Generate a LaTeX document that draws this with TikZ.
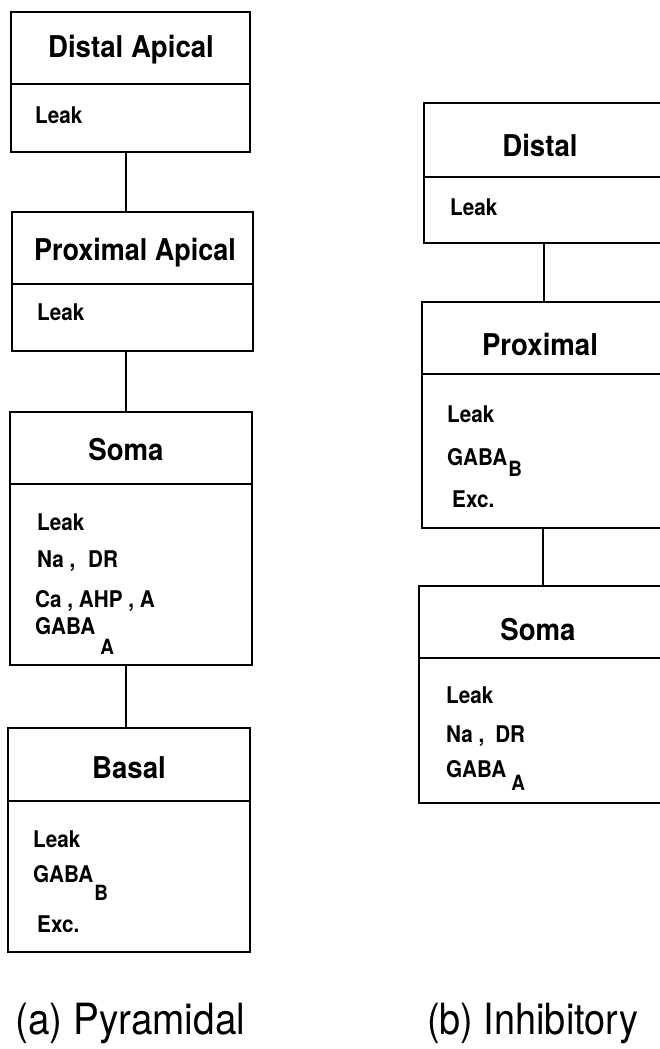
\documentclass[tikz,border=0pt]{standalone}
\usepackage{graphicx}
\usepackage{fontspec}
\setmainfont{TeX Gyre Heros}
\newcommand{\cond}[2]{\scalebox{#1}[1]{#2}}
\newcommand{\gsub}[3]{\cond{0.9}{GABA}\kern#1\raisebox{-#2}{\fontsize{21}{23}\selectfont\cond{0.9}{#3}}}
\begin{document}
\begin{tikzpicture}[x=1pt,y=-1pt,
  box/.style={draw,line width=2pt,rectangle,inner sep=0pt},
  ttl/.style={anchor=base,font=\fontsize{30}{32}\selectfont\bfseries,inner sep=0pt},
  item/.style={anchor=base west,font=\fontsize{23}{25}\selectfont\bfseries,inner sep=0pt},
  capt/.style={anchor=base west,font=\fontsize{43}{46}\selectfont,inner sep=0pt},
  link/.style={line width=2pt}]
\useasboundingbox (0,0) rectangle (660,1049);
\clip (0,0) rectangle (660,1049);
\fill[white] (0,0) rectangle (660,1049);

% ---------- (a) Pyramidal ----------
\node[box,minimum width=239,minimum height=140] (da) at (130.5,82) {};
\draw[link] (da.west |- 0,84) -- (da.east |- 0,84);
\node[ttl] (daT) at (131,57) {\cond{0.92}{Distal Apical}};
\node[item] (daL) at (35,123) {\cond{0.9}{Leak}};

\node[box,minimum width=241,minimum height=139] (pa) at (132.5,281.5) {};
\draw[link] (pa.west |- 0,284) -- (pa.east |- 0,284);
\node[ttl] (paT) at (135,260) {\cond{0.9}{Proximal Apical}};
\node[item] (paL) at (37,320) {\cond{0.9}{Leak}};

\node[box,minimum width=242,minimum height=253] (sl) at (131,538.5) {};
\draw[link] (sl.west |- 0,484) -- (sl.east |- 0,484);
\node[ttl] (slT) at (126,460) {\cond{0.92}{Soma}};
\node[item] (slL) at (37,530) {\cond{0.9}{Leak}};
\node[item] (slN) at (37,567) {\cond{0.9}{Na ,\kern14pt DR}};
\node[item] (slC) at (35,607) {\cond{0.9}{Ca , AHP , A}};
\node[item] (slG) at (35,634) {\gsub{5pt}{20pt}{A}};

\node[box,minimum width=242,minimum height=224] (bl) at (129,840) {};
\draw[link] (bl.west |- 0,801) -- (bl.east |- 0,801);
\node[ttl] (blT) at (129,778) {\cond{0.92}{Basal}};
\node[item] (blL) at (33,847) {\cond{0.9}{Leak}};
\node[item] (blG) at (33,882) {\gsub{1pt}{18pt}{B}};
\node[item] (blE) at (37,932) {\cond{0.9}{Exc.}};

\draw[link] (126,0 |- da.south) -- (126,0 |- pa.north);
\draw[link] (126,0 |- pa.south) -- (126,0 |- sl.north);
\draw[link] (126,0 |- sl.south) -- (126,0 |- bl.north);

\node[capt] (capA) at (15,1034) {\cond{0.9}{(a) Pyramidal}};

% ---------- (b) Inhibitory ----------
\node[box,minimum width=242,minimum height=140] (di) at (545,173) {};
\draw[link] (di.west |- 0,177) -- (di.east |- 0,177);
\node[ttl] (diT) at (540,156) {\cond{0.92}{Distal}};
\node[item] (diL) at (450,215) {\cond{0.9}{Leak}};

\node[box,minimum width=244,minimum height=226] (pr) at (544,415) {};
\draw[link] (pr.west |- 0,374) -- (pr.east |- 0,374);
\node[ttl] (prT) at (540,355) {\cond{0.92}{Proximal}};
\node[item] (prL) at (447,422) {\cond{0.9}{Leak}};
\node[item] (prG) at (447,465) {\gsub{1pt}{11pt}{B}};
\node[item] (prE) at (452,507) {\cond{0.9}{Exc.}};

\node[box,minimum width=247,minimum height=217] (sr) at (542.5,694.5) {};
\draw[link] (sr.west |- 0,658) -- (sr.east |- 0,658);
\node[ttl] (srT) at (538,640) {\cond{0.92}{Soma}};
\node[item] (srL) at (446,703) {\cond{0.9}{Leak}};
\node[item] (srN) at (446,742) {\cond{0.9}{Na ,\kern12pt DR}};
\node[item] (srG) at (446,777) {\gsub{5pt}{13pt}{A}};

\draw[link] (544,0 |- di.south) -- (544,0 |- pr.north);
\draw[link] (543,0 |- pr.south) -- (543,0 |- sr.north);

\node[capt] (capB) at (427,1034) {\cond{0.88}{(b) Inhibitory}};
\end{tikzpicture}
\end{document}
